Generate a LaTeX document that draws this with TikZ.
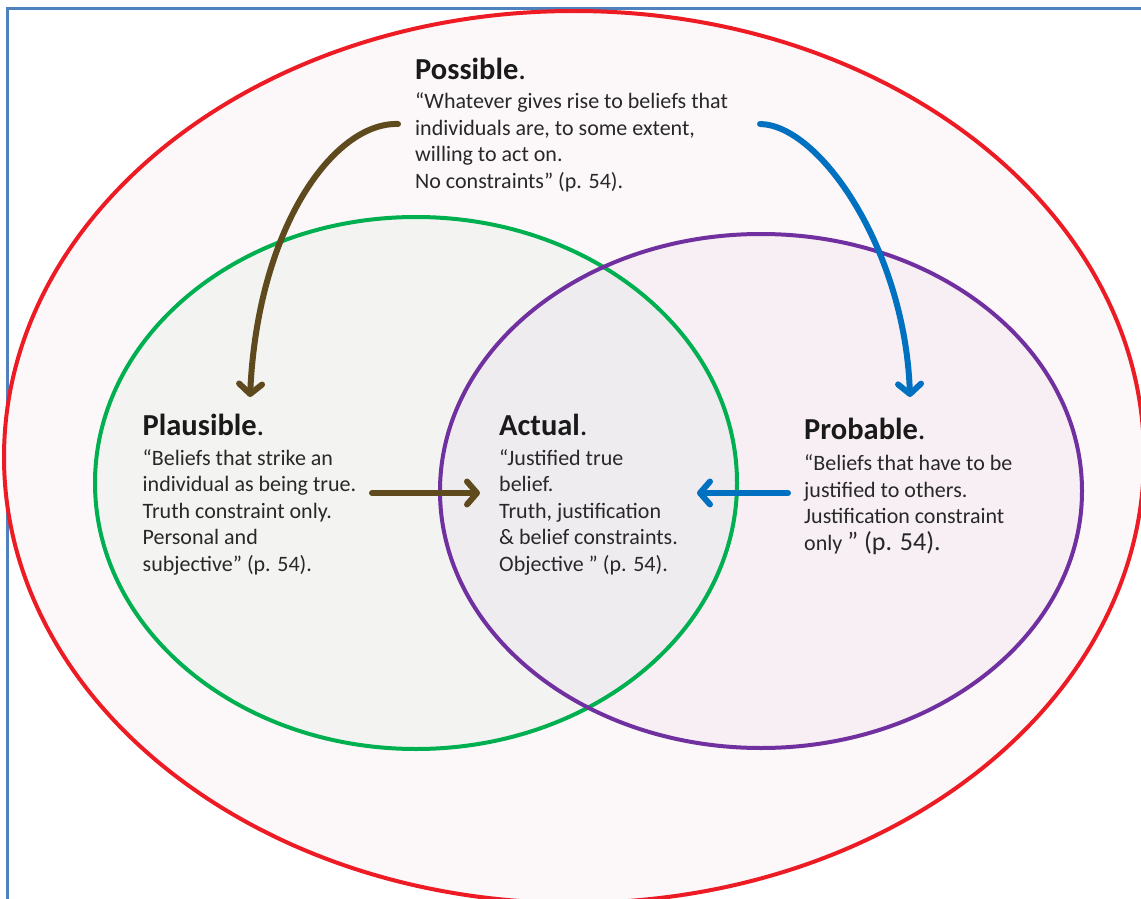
\documentclass[tikz,border=0pt]{standalone}
\usepackage{fontspec}
\setmainfont{Carlito}
\usetikzlibrary{arrows.meta}

\definecolor{frameblue}{RGB}{79,129,189}
\definecolor{outerred}{RGB}{237,28,36}
\definecolor{outerfill}{RGB}{252,247,248}
\definecolor{plgreen}{RGB}{0,176,80}
\definecolor{plfill}{RGB}{243,243,241}
\definecolor{prpurple}{RGB}{112,48,160}
\definecolor{prfill}{RGB}{247,239,243}
\definecolor{acfill}{RGB}{239,236,239}
\definecolor{arrbrown}{RGB}{94,74,28}
\definecolor{arrblue}{RGB}{0,112,192}
\definecolor{titlecol}{RGB}{26,26,26}
\definecolor{bodycol}{RGB}{40,40,40}

\begin{document}
\begin{tikzpicture}[x=1pt,y=-1pt,
  settitle/.style={anchor=base west, inner sep=0pt, text=titlecol,
    font=\fontsize{30.5}{34}\selectfont},
  setbody/.style={anchor=base west, inner sep=0pt, text=bodycol,
    font=\fontsize{22}{26.6}\selectfont},
  flow/.style={line width=6pt, line cap=round,
    -{Straight Barb[round,length=10pt,width=23pt]}}
]
\clip (0,0) rectangle (1141,899);

% page frame
\draw[frameblue, line width=2.5pt] (7.5,8.5) rectangle (1170,930);

% the three sets
\draw[outerred, fill=outerfill, line width=4pt] (574,457) ellipse [x radius=570, y radius=446];
\fill[plfill] (416,483) ellipse [x radius=321, y radius=266];
\fill[prfill] (761,491) ellipse [x radius=321, y radius=257];
\begin{scope}
  \clip (416,483) ellipse [x radius=321, y radius=266];
  \fill[acfill] (761,491) ellipse [x radius=321, y radius=257];
\end{scope}
\draw[plgreen, line width=4pt] (416,483) ellipse [x radius=321, y radius=266];
\draw[prpurple, line width=4pt] (761,491) ellipse [x radius=321, y radius=257];

% labels
\node[settitle] (posT) at (415,79.5) {\textbf{Possible}.};
\node[setbody] (posB) at (415,108.5) {\begin{tabular}[t]{@{}l@{}}
“Whatever gives rise to beliefs that\\
individuals are, to some extent,\\
willing to act on.\\
No constraints” (p. 54).
\end{tabular}};

\node[settitle] (plaT) at (142.5,435) {\textbf{Plausible}.};
\node[setbody] (plaB) at (142.5,465) {\begin{tabular}[t]{@{}l@{}}
“Beliefs that strike an\\
individual as being true.\\
Truth constraint only.\\
Personal and\\
subjective” (p. 54).
\end{tabular}};

\node[settitle] (actT) at (499,435) {\textbf{Actual}.};
\node[setbody] (actB) at (499,465) {\begin{tabular}[t]{@{}l@{}}
“Justified true\\
belief.\\
Truth, justification\\
\& belief constraints.\\
Objective ” (p. 54).
\end{tabular}};

\node[settitle] (proT) at (804,439.5) {\textbf{Probable}.};
\node[setbody] (proB) at (804,470.5) {\begin{tabular}[t]{@{}l@{}}
“Beliefs that have to be\\
justified to others.\\
Justification constraint\\
only {\fontsize{26}{26.6}\selectfont ” (p. 54).}
\end{tabular}};

% arrow end points
\coordinate (bStart) at (398,124);
\coordinate (bEnd) at (250,397);
\coordinate (uStart) at (760,124);
\coordinate (uEnd) at (910,397);
\coordinate (pOut) at (372,493);
\coordinate (aInL) at (480,493);
\coordinate (qOut) at (788,493);
\coordinate (aInR) at (697,493);

% arrows
\draw[flow, arrbrown] (bStart) .. controls (335,122) and (258,225) .. (bEnd);
\draw[flow, arrblue] (uStart) .. controls (820,125) and (905,250) .. (uEnd);
\draw[flow, arrbrown] (pOut) -- (aInL);
\draw[flow, arrblue] (qOut) -- (aInR);
\end{tikzpicture}
\end{document}
